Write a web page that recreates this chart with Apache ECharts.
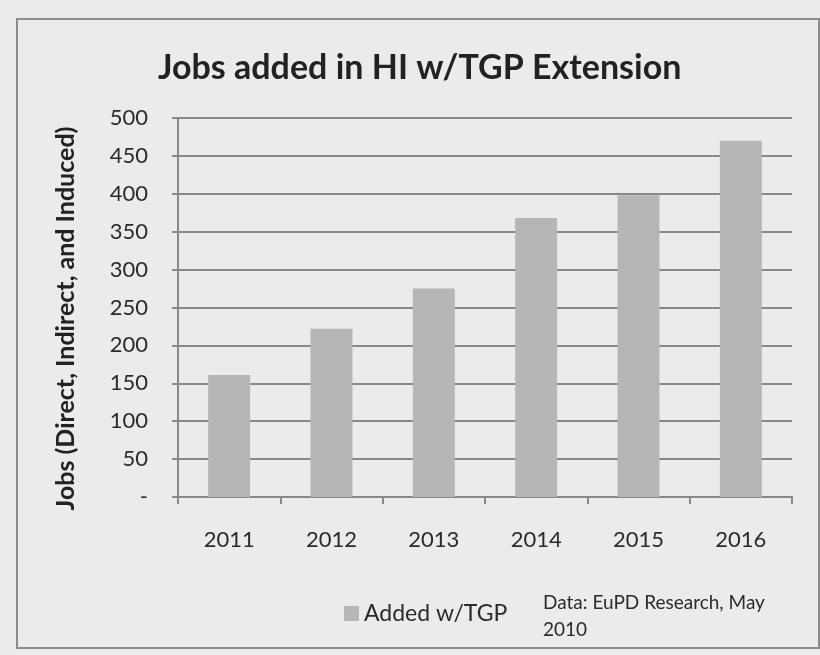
<!DOCTYPE html>
<html>
<head>
<meta charset="utf-8">
<script src="https://cdn.jsdelivr.net/npm/echarts@6/dist/echarts.min.js"></script>
<style>
  html, body { margin: 0; padding: 0; background: #ebebeb; }
  #chart { width: 820px; height: 655px; }
</style>
</head>
<body>
<div id="chart"></div>
<script>
// Jobs added per year under the TGP extension
const years = ['2011', '2012', '2013', '2014', '2015', '2016'];
const jobsAdded = [161, 222, 275, 368, 398, 470];
const seriesName = 'Added w/TGP';
const sourceNote = 'Data: EuPD Research, May\n2010';

const FONT = 'Lato, "Open Sans", sans-serif';
const TEXT = '#2b2b2b';
const chart = echarts.init(document.getElementById('chart'));

chart.setOption({
  backgroundColor: '#ebebeb',
  animation: false,
  title: {
    text: 'Jobs added in HI w/TGP Extension',
    left: 153,
    top: 46,
    textStyle: { fontFamily: FONT, fontSize: 34, fontWeight: 'bold', color: '#222' }
  },
  grid: { left: 178, right: 28, top: 118, bottom: 158 },
  legend: {
    data: [seriesName],
    left: 339,
    top: 597,
    itemWidth: 15,
    itemHeight: 15,
    icon: 'rect',
    itemGap: 6,
    textStyle: { fontFamily: FONT, fontSize: 23, color: TEXT }
  },
  xAxis: {
    type: 'category',
    data: years,
    boundaryGap: true,
    axisLine: { lineStyle: { color: '#888', width: 2 } },
    axisTick: { show: true, length: 7, lineStyle: { color: '#888', width: 2 } },
    axisLabel: { fontFamily: FONT, fontSize: 22, color: TEXT, margin: 32 }
  },
  yAxis: {
    type: 'value',
    min: 0,
    max: 500,
    interval: 50,
    name: 'Jobs (Direct, Indirect, and Induced)',
    nameLocation: 'middle',
    nameGap: 100,
    nameTextStyle: {
      fontFamily: FONT, fontSize: 25, fontWeight: 'bold', color: '#222',
      padding: [0, 22, 0, 0]
    },
    axisLine: { show: true, lineStyle: { color: '#888', width: 2 } },
    axisTick: { show: true, length: 6, lineStyle: { color: '#888', width: 2 } },
    splitLine: { lineStyle: { color: '#888', width: 2 } },
    axisLabel: {
      fontFamily: FONT, fontSize: 22, color: TEXT, margin: 30,
      formatter: v => (v === 0 ? '-' : String(v))
    }
  },
  series: [{
    name: seriesName,
    type: 'bar',
    data: jobsAdded,
    barWidth: '41%',
    itemStyle: { color: '#b6b6b6' }
  }],
  graphic: [
    {
      type: 'rect',
      shape: { x: 17, y: 19, width: 802, height: 629 },
      style: { fill: 'none', stroke: '#8c8c8c', lineWidth: 2 },
      z: -1
    },
    {
      type: 'text',
      left: 543,
      top: 589,
      style: {
        text: sourceNote,
        fontFamily: FONT,
        fontSize: 19,
        lineHeight: 27,
        fill: TEXT
      }
    }
  ]
});
</script>
</body>
</html>
